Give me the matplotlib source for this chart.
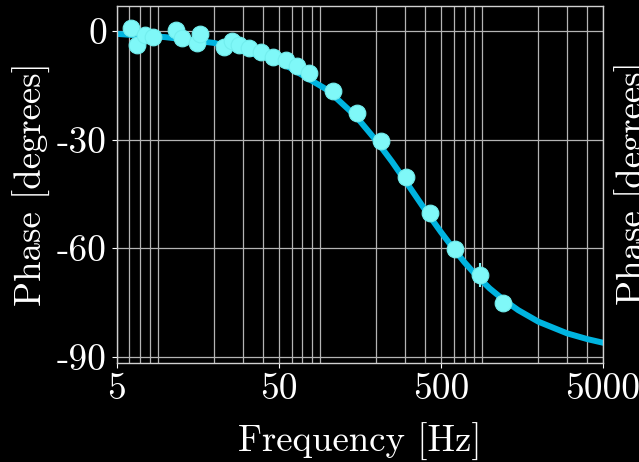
import numpy as np
import matplotlib
matplotlib.use("Agg")
import matplotlib.pyplot as plt

plt.rcParams['font.family'] = 'serif'
plt.rcParams['font.serif'] = ['cmr10']
plt.rcParams['mathtext.fontset'] = 'cm'
plt.rcParams['axes.unicode_minus'] = False

# measured phase points
freq = np.array([6.1, 6.7, 7.5, 8.4, 11.7, 12.6, 15.6, 16.4, 23.0, 25.6, 28.6,
                 32.8, 38.8, 46.3, 55.4, 65.1, 77.4, 108, 153, 215, 303, 428,
                 611, 867, 1203])
phase = np.array([0.75, -3.9, -1.1, -1.7, 0.3, -2.0, -3.4, -0.8, -4.3, -2.9, -3.9,
                  -4.8, -5.7, -7.1, -8.0, -9.8, -11.7, -16.5, -22.7, -30.5, -40.4,
                  -50.3, -60.2, -67.5, -75.0])
phase_err = np.array([0, 0, 0, 0, 0, 0, 0, 0, 0, 0, 0,
                      0, 0, 0, 0, 0, 0, 0, 0, 0, 0,
                      0, 0, 3.3, 0])

# fitted low-pass response
fit_freq = np.array([5, 10, 20, 50, 100, 150, 200, 250, 300, 400, 500, 600,
                     700, 800, 1000, 1200, 1500, 2000, 3000, 4000, 5000])
fit_phase = np.array([-0.8, -1.7, -3.3, -8.3, -16.3, -23.6, -30.3, -36.1, -41.2,
                      -49.4, -55.5, -60.2, -63.9, -66.8, -71.1, -74.0, -77.1,
                      -80.3, -83.5, -85.1, -86.1])

xticks = [5, 50, 500, 5000]
yticks = [-90, -60, -30, 0]

fig = plt.figure(figsize=(6.39, 4.62), dpi=100, facecolor='black')
ax = fig.add_axes([116.5 / 639, 99 / 462, (603 - 116.5) / 639, (363 - 6) / 462])
ax.set_facecolor('black')

ax.plot(fit_freq, fit_phase, color='#00b4e0', lw=4.3, zorder=2)
ax.errorbar(freq, phase, yerr=phase_err, fmt='o', color='#7ff8f8', ms=12,
            mec='#72eeee', mew=0.8, ecolor='#7ff8f8', elinewidth=1.5, capsize=0, zorder=3)

ax.set_xscale('log')
ax.set_xlim(5, 5000)
ax.set_ylim(-91.7, 6.9)
ax.set_xticks(xticks)
ax.set_xticklabels([str(t) for t in xticks])
ax.set_yticks(yticks)
ax.set_yticklabels([str(t) for t in yticks])

ax.grid(True, which='both', color='#b4b4b4', lw=0.9)
ax.set_axisbelow(True)
for s in ax.spines.values():
    s.set_color('#d0d0d0')
    s.set_linewidth(1.0)
ax.tick_params(which='both', colors='white', labelsize=27, length=3.5, width=0.8)
ax.tick_params(axis='x', which='minor', length=0)

ax.set_xlabel('Frequency [Hz]', color='white', fontsize=26.5, labelpad=12)
ax.set_ylabel('Phase [degrees]', color='white', fontsize=26.5, labelpad=4)

# label of the neighbouring panel
fig.text(615 / 639, 1 - 183 / 462, 'Phase [degrees]', rotation=90, color='white',
         fontsize=26.5, ha='left', va='center')

fig.savefig('out.png', dpi=100, facecolor='black')
